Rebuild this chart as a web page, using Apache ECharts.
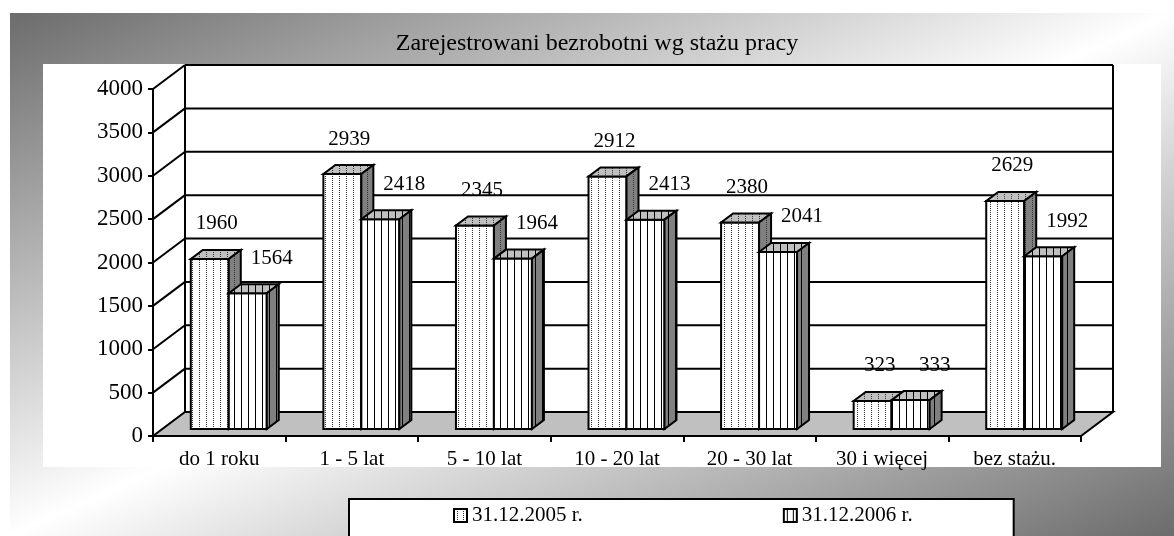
<!DOCTYPE html>
<html>
<head>
<meta charset="utf-8">
<script src="https://cdn.jsdelivr.net/npm/echarts@6/dist/echarts.min.js"></script>
<style>html,body{margin:0;padding:0;background:#fff;}#c{width:1174px;height:536px;}</style>
</head>
<body>
<div id="c"></div>
<script>
const categories = ['do 1 roku', '1 - 5 lat', '5 - 10 lat', '10 - 20 lat', '20 - 30 lat', '30 i więcej', 'bez stażu.'];
const values2005 = [1960, 2939, 2345, 2912, 2380, 323, 2629];
const values2006 = [1564, 2418, 1964, 2413, 2041, 333, 1992];
const seriesNames = ['31.12.2005 r.', '31.12.2006 r.'];
const yTicks = [0, 500, 1000, 1500, 2000, 2500, 3000, 3500, 4000];
const titleText = 'Zarejestrowani bezrobotni wg stażu pracy';

const FONT = '"Liberation Serif", "Times New Roman", serif';
const WALL_DX = 32, WALL_DY = -24;
const BAR_SX = 9.5, BAR_SY = -7;
const BAR_DX = 12, BAR_DY = -9;
const BAR_FRAC = 0.2865;

function makePattern(bg, dotted, step) {
  const c = document.createElement('canvas');
  c.width = step; c.height = 2;
  const g = c.getContext('2d');
  g.fillStyle = bg; g.fillRect(0, 0, step, 2);
  g.fillStyle = dotted ? '#333' : '#000';
  if (dotted) { g.fillRect(Math.floor(step / 2), 0, 1, 1); }
  else { g.fillRect(Math.floor(step / 2), 0, 1, 2); }
  return { image: c, repeat: 'repeat' };
}
const pats = [
  { front: makePattern('#ffffff', true, 7), top: makePattern('#c0c0c0', true, 7), side: makePattern('#808080', true, 7), legend: makePattern('#ffffff', true, 6) },
  { front: makePattern('#ffffff', false, 7), top: makePattern('#c0c0c0', false, 7), side: makePattern('#808080', false, 7), legend: makePattern('#ffffff', false, 6) }
];
const labelDx = [7, 24];

function frameRender(params, api) {
  const v = api.value(1);
  const cs = params.coordSys;
  const y = api.coord([0, v])[1];
  const y0 = api.coord([0, 0])[1];
  const xl = cs.x, xr = cs.x + cs.width;
  const ls = { stroke: '#000', lineWidth: 2 };
  const ch = [];
  if (v === 0) {
    ch.push({ type: 'polygon', shape: { points: [[xl, y], [xr, y], [xr + WALL_DX, y + WALL_DY], [xl + WALL_DX, y + WALL_DY]] },
      style: { fill: '#c0c0c0', stroke: '#000', lineWidth: 2 } });
  } else {
    ch.push({ type: 'line', shape: { x1: xl + WALL_DX, y1: y + WALL_DY, x2: xr + WALL_DX, y2: y + WALL_DY }, style: ls });
    ch.push({ type: 'line', shape: { x1: xl, y1: y, x2: xl + WALL_DX, y2: y + WALL_DY }, style: ls });
  }
  if (v === yTicks[yTicks.length - 1]) {
    ch.push({ type: 'line', shape: { x1: xl + WALL_DX, y1: y + WALL_DY, x2: xl + WALL_DX, y2: y0 + WALL_DY }, style: ls });
    ch.push({ type: 'line', shape: { x1: xr + WALL_DX, y1: y + WALL_DY, x2: xr + WALL_DX, y2: y0 + WALL_DY }, style: ls });
  }
  return { type: 'group', children: ch };
}

function barRender(k) {
  return function (params, api) {
    const i = api.value(0), v = api.value(1);
    const base = api.coord([i, 0]);
    const top = api.coord([i, v]);
    const band = api.size([1, 0])[0];
    const w = band * BAR_FRAC;
    const x0 = base[0] - w + k * w + BAR_SX;
    const x1 = x0 + w;
    const yb = base[1] + BAR_SY, yt = top[1] + BAR_SY;
    const p = pats[k];
    const st = { stroke: '#000', lineWidth: 2, lineJoin: 'miter' };
    return {
      type: 'group',
      children: [
        { type: 'rect', shape: { x: x0, y: yt, width: w, height: yb - yt }, style: Object.assign({ fill: p.front }, st) },
        { type: 'polygon', shape: { points: [[x0, yt], [x1, yt], [x1 + BAR_DX, yt + BAR_DY], [x0 + BAR_DX, yt + BAR_DY]] }, style: Object.assign({ fill: p.top }, st) },
        { type: 'polygon', shape: { points: [[x1, yt], [x1 + BAR_DX, yt + BAR_DY], [x1 + BAR_DX, yb + BAR_DY], [x1, yb]] }, style: Object.assign({ fill: p.side }, st) },
        { type: 'text', x: (x0 + x1) / 2 + labelDx[k], y: yt - 35,
          style: { text: String(v), fill: '#000', font: '21px ' + FONT, align: 'center', verticalAlign: 'middle' } }
      ]
    };
  };
}

const chart = echarts.init(document.getElementById('c'), null, { renderer: 'canvas' });
const option = {
  animation: false,
  backgroundColor: '#ffffff',
  graphic: [
    { type: 'rect', z: -20, shape: { x: 10, y: 13, width: 1170, height: 530 },
      style: { fill: { type: 'linear', x: 10, y: 13, x2: 401, y2: 883, global: true,
        colorStops: [{ offset: 0, color: '#6c6c6c' }, { offset: 0.5, color: '#ffffff' }, { offset: 1, color: '#6c6c6c' }] } } },
    { type: 'rect', z: -19, shape: { x: 43, y: 64, width: 1118, height: 403 }, style: { fill: '#ffffff' } },
    { type: 'text', z: 10, x: 597, y: 44, style: { text: titleText, font: '24px ' + FONT, fill: '#000', align: 'center', verticalAlign: 'middle' } }
  ],
  grid: { left: 153, right: 93, top: 89, bottom: 100, containLabel: false },
  legend: {
    left: 349, top: 499, orient: 'horizontal', itemGap: 200, itemWidth: 13, itemHeight: 13,
    padding: [6, 101, 40, 104], backgroundColor: '#ffffff', borderColor: '#000', borderWidth: 2, borderRadius: 0,
    textStyle: { fontFamily: FONT, fontSize: 21, color: '#000' },
    data: seriesNames.map((n, k) => ({ name: n, icon: 'rect', itemStyle: { color: pats[k].legend, borderColor: '#000', borderWidth: 2 } }))
  },
  xAxis: {
    type: 'category', data: categories, boundaryGap: true, z: 5,
    axisLine: { show: true, lineStyle: { color: '#000', width: 2 } },
    axisTick: { show: true, length: 6, lineStyle: { color: '#000', width: 2 } },
    axisLabel: { fontFamily: FONT, fontSize: 21, color: '#000', margin: 13 },
    splitLine: { show: false }
  },
  yAxis: {
    type: 'value', min: 0, max: 4000, interval: 500, z: 5,
    axisLine: { show: true, lineStyle: { color: '#000', width: 2 } },
    axisTick: { show: true, length: 5, lineStyle: { color: '#000', width: 2 } },
    axisLabel: { fontFamily: FONT, fontSize: 23, color: '#000', margin: 10, formatter: v => String(v) },
    splitLine: { show: false }
  },
  series: [
    { type: 'custom', name: 'frame', silent: true, clip: false, z: 1, renderItem: frameRender,
      encode: { x: 0, y: 1 }, data: yTicks.map(v => [0, v]) },
    { type: 'custom', name: seriesNames[0], clip: false, z: 3, renderItem: barRender(0),
      encode: { x: 0, y: 1 }, data: values2005.map((v, i) => [i, v]) },
    { type: 'custom', name: seriesNames[1], clip: false, z: 4, renderItem: barRender(1),
      encode: { x: 0, y: 1 }, data: values2006.map((v, i) => [i, v]) }
  ]
};
chart.setOption(option);
</script>
</body>
</html>
